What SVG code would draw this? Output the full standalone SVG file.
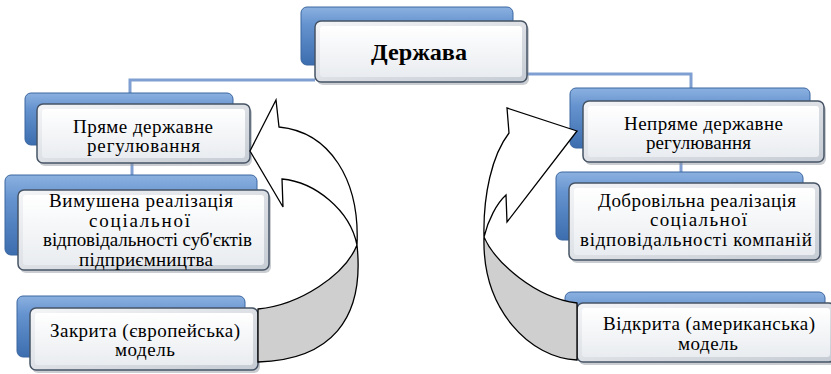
<svg xmlns="http://www.w3.org/2000/svg" width="831" height="374" viewBox="0 0 831 374">
<defs>
<linearGradient id="gBack" x1="0" y1="0" x2="0" y2="1">
<stop offset="0" stop-color="#8cb1e0"/>
<stop offset="0.3" stop-color="#6593cf"/>
<stop offset="1" stop-color="#3c6dae"/>
</linearGradient>
<linearGradient id="gFront" x1="0" y1="0" x2="0" y2="1">
<stop offset="0" stop-color="#ffffff"/>
<stop offset="1" stop-color="#e9ecf0"/>
</linearGradient>
<linearGradient id="gEdge" x1="0" y1="0" x2="1" y2="1">
<stop offset="0" stop-color="#f4f5f7"/>
<stop offset="1" stop-color="#c6ccd4"/>
</linearGradient>
</defs>
<style>
.back{fill:url(#gBack);stroke:#3a66a0;stroke-width:1}
.shadow{fill:#8a9099;opacity:0.45}
.front{fill:url(#gEdge);stroke:#465466;stroke-width:1.5}
.bevel{fill:url(#gFront);stroke:none}
.t{font-size:19px;fill:#000;text-anchor:middle}
.tb{font-size:24px;font-weight:bold;fill:#000;text-anchor:middle}
.link{fill:none;stroke:#7f9fd2;stroke-width:3}
.arrowFront{fill:#ffffff;stroke:#000;stroke-width:1.3;stroke-linejoin:miter}
.arrowBack{fill:#cfcfcf;stroke:#000;stroke-width:1.3}
</style>
<rect width="831" height="374" fill="#ffffff"/>
<g id="links">
<path class="link" d="M315,80 H130 V94"/>
<path class="link" d="M527,74 H691 V89"/>
<path class="link" d="M132,162 V177"/>
<path class="link" d="M681,161 V173"/>
</g>
<g font-family="Liberation Serif, DejaVu Serif, serif">
<g id="n-derzhava">
<rect class="back" x="301" y="7" width="212" height="58" rx="6"/>
<rect class="shadow" x="317" y="24" width="212" height="61" rx="6"/>
<rect class="front" x="315" y="21" width="212" height="61" rx="6"/>
<rect class="bevel" x="320" y="26" width="202" height="51" rx="3"/>
<text class="tb" x="419" y="60" textLength="96" lengthAdjust="spacingAndGlyphs">Держава</text>
</g>
<g id="n-pryame">
<rect class="back" x="25" y="93" width="208" height="52" rx="6"/>
<rect class="shadow" x="39" y="107" width="213" height="59" rx="6"/>
<rect class="front" x="37" y="104" width="213" height="59" rx="6"/>
<rect class="bevel" x="42" y="109" width="203" height="49" rx="3"/>
<text class="t" x="143" y="133" textLength="140">Пряме державне</text>
<text class="t" x="143.5" y="152" textLength="113">регулювання</text>
</g>
<g id="n-vymushena">
<rect class="back" x="5" y="175" width="252" height="80" rx="6"/>
<rect class="shadow" x="20" y="193" width="251" height="80" rx="6"/>
<rect class="front" x="18" y="190" width="251" height="80" rx="6"/>
<rect class="bevel" x="23" y="195" width="241" height="70" rx="3"/>
<text class="t" x="141" y="207" textLength="184">Вимушена реалізація</text>
<text class="t" x="139.5" y="226.5" textLength="101">соціальної</text>
<text class="t" x="147.5" y="246" textLength="209">відповідальності суб'єктів</text>
<text class="t" x="146" y="265.5" textLength="134">підприємництва</text>
</g>
<g id="n-zakryta">
<rect class="back" x="17" y="296" width="228" height="61" rx="6"/>
<rect class="shadow" x="32" y="311" width="228" height="62" rx="6"/>
<rect class="front" x="30" y="308" width="228" height="62" rx="6"/>
<rect class="bevel" x="35" y="313" width="218" height="52" rx="3"/>
<text class="t" x="145" y="336.5" textLength="190">Закрита (європейська)</text>
<text class="t" x="145" y="356" textLength="60">модель</text>
</g>
<g id="n-nepryame">
<rect class="back" x="570" y="88" width="240" height="60" rx="6"/>
<rect class="shadow" x="585" y="104" width="241" height="61" rx="6"/>
<rect class="front" x="583" y="101" width="241" height="61" rx="6"/>
<rect class="bevel" x="588" y="106" width="231" height="51" rx="3"/>
<text class="t" x="703.5" y="129.5" textLength="159">Непряме державне</text>
<text class="t" x="698.5" y="148.5" textLength="105">регулювання</text>
</g>
<g id="n-dobrovilna">
<rect class="back" x="556" y="172" width="247" height="68" rx="6"/>
<rect class="shadow" x="571" y="186" width="251" height="77" rx="6"/>
<rect class="front" x="569" y="183" width="251" height="77" rx="6"/>
<rect class="bevel" x="574" y="188" width="241" height="67" rx="3"/>
<text class="t" x="697" y="206.5" textLength="198">Добровільна реалізація</text>
<text class="t" x="698.5" y="226" textLength="97">соціальної</text>
<text class="t" x="696" y="245.5" textLength="232">відповідальності компаній</text>
</g>
<g id="n-vidkryta">
<rect class="back" x="565" y="292" width="260" height="58" rx="6"/>
<rect class="shadow" x="579" y="306" width="258" height="59" rx="6"/>
<rect class="front" x="577" y="303" width="258" height="59" rx="6"/>
<rect class="bevel" x="582" y="308" width="248" height="49" rx="3"/>
<text class="t" x="709" y="330" textLength="212">Відкрита (американська)</text>
<text class="t" x="708" y="350" textLength="60">модель</text>
</g>
</g>
<g id="arrows">
<path class="arrowBack" d="M357,245 C345,275 300,305 258,309 L258,362 C330,360 365,320 357,245 Z"/>
<path class="arrowFront" d="M250,151 L276,100 L279,127 C330,132 360,180 357,245 C350,210 315,182 282,179 L283,207 Z"/>
<path class="arrowBack" d="M484,237 C495,262 535,298 577,303 L577,360 C530,358 482,310 484,237 Z"/>
<path class="arrowFront" d="M577,131 L507,108 L509,133 C492,155 483,195 484,237 C488,220 497,203 506,195 L507,222 Z"/>
</g>
</svg>
